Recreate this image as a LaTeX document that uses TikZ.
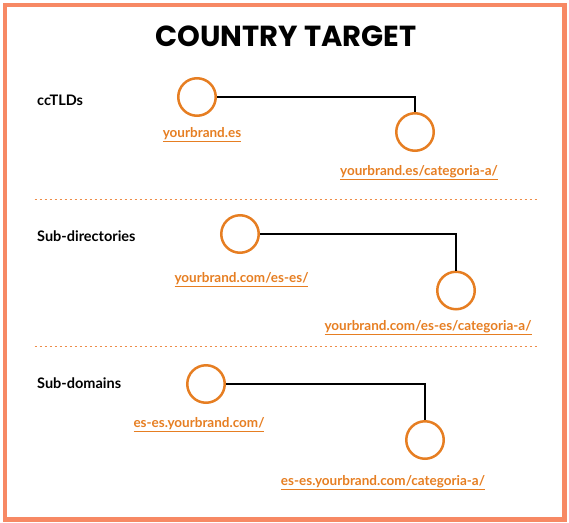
\documentclass[tikz,border=0pt]{standalone}
\usepackage{fontspec}
\setmainfont{Lato}
\newfontfamily\titlefont{Poppins}
\usetikzlibrary{positioning}

\definecolor{brandorange}{RGB}{230,126,34}
\definecolor{framesalmon}{RGB}{247,137,100}
\definecolor{sepline}{RGB}{238,140,72}

\begin{document}
\begin{tikzpicture}[
  x=1pt, y=-1pt,
  site/.style={draw=brandorange,circle,line width=2.5pt,minimum size=37.5pt,inner sep=0pt},
  url/.style={text=brandorange,font=\fontsize{13.5}{15}\selectfont\bfseries,inner sep=0pt},
  group/.style={font=\fontsize{14.5}{16}\selectfont\bfseries,anchor=west,inner sep=0pt},
  link/.style={line width=2.5pt},
  sep/.style={draw=sepline,line width=1.2pt,dash pattern=on 2.5pt off 2.5pt}
]
\useasboundingbox (0,0) rectangle (569,522);

% frame and title
\draw[draw=framesalmon,line width=4.5pt] (5,5) rectangle (564.5,519.5);
\node[font=\titlefont\bfseries\fontsize{29}{32}\selectfont] (title) at (286,36) {COUNTRY TARGET};

% ccTLDs
\node[group] (cctld) at (37,100) {ccTLDs};
\node[site] (tldroot) at (197,97) {};
\node[site] (tldcat) at (415,132) {};
\node[url,below=10pt of tldroot,xshift=5pt] (tldrootlbl) {\underline{yourbrand.es}};
\node[url,below=13pt of tldcat,xshift=4pt] (tldcatlbl) {\underline{yourbrand.es/categoria-a/}};

\draw[sep] (34.5,199.3) -- (537,199.3);

% sub-directories
\node[group] (subdir) at (37,236) {Sub-directories};
\node[site] (dirroot) at (240,234) {};
\node[site] (dircat) at (456,290.5) {};
\node[url,below=18pt of dirroot,xshift=1.5pt] (dirrootlbl) {\underline{yourbrand.com/es-es/}};
\node[url,below=9.5pt of dircat,xshift=-28pt] (dircatlbl) {\underline{yourbrand.com/es-es/categoria-a/}};

\draw[sep] (34.5,346.7) -- (537,346.7);

% sub-domains
\node[group] (subdom) at (37,383) {Sub-domains};
\node[site] (domroot) at (206,384) {};
\node[site] (domcat) at (425,440) {};
\node[url,below=13pt of domroot,xshift=-7pt] (domrootlbl) {\underline{es-es.yourbrand.com/}};
\node[url,below=15pt of domcat,xshift=-42pt] (domcatlbl) {\underline{es-es.yourbrand.com/categoria-a/}};

% links
\draw[link] (tldroot) -| (tldcat);
\draw[link] (dirroot) -| (dircat);
\draw[link] (domroot) -| (domcat);

\end{tikzpicture}
\end{document}
